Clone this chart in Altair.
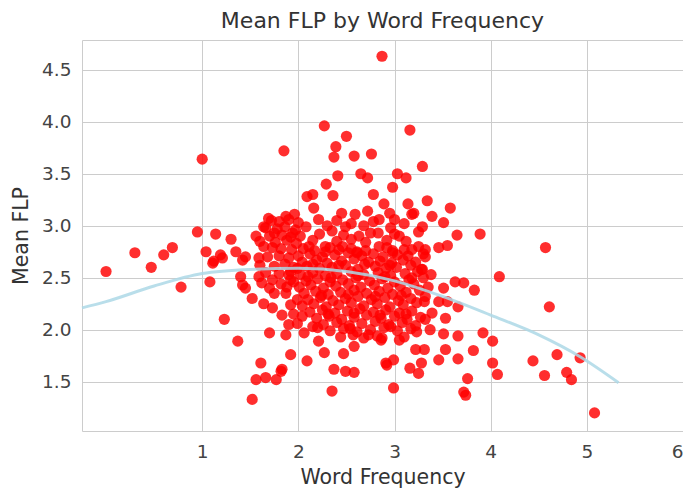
import altair as alt
import pandas as pd

# ---- scatter values (Word Frequency, Mean FLP) ----
upper_pts = [
    (2.87, 4.63), (1.00, 3.64), (2.27, 3.96), (2.50, 3.86), (1.85, 3.72), (2.39, 3.76),
    (2.37, 3.66), (2.58, 3.67), (2.76, 3.69), (3.16, 3.92), (3.29, 3.57), (2.41, 3.48),
    (2.65, 3.50), (2.72, 3.46), (2.29, 3.40), (3.03, 3.50), (3.12, 3.46), (2.98, 3.37),
    (2.36, 3.29), (2.15, 3.30), (2.78, 3.30), (2.09, 3.28), (2.16, 3.17), (2.89, 3.21),
    (3.14, 3.21), (3.34, 3.24), (3.58, 3.17), (3.20, 3.12), (3.39, 3.09), (3.51, 3.03),
    (3.29, 2.99), (3.65, 2.91), (3.89, 2.92), (1.69, 3.07), (1.87, 3.09), (1.96, 3.11),
    (2.59, 3.11), (2.72, 3.14), (2.84, 3.06), (3.18, 3.11), (2.21, 3.06), (2.08, 2.99),
    (2.35, 2.95), (2.49, 2.99), (2.63, 2.90), (2.75, 2.93), (2.96, 2.98), (3.05, 2.90),
    (3.25, 2.94), (1.64, 2.99), (1.75, 2.93), (1.94, 2.93), (2.02, 2.90),
]
left_pts = [
    (0.95, 2.94), (1.14, 2.92), (1.30, 2.87), (1.56, 2.90), (0.00, 2.56), (0.30, 2.74),
    (0.47, 2.60), (0.60, 2.72), (0.69, 2.79), (0.78, 2.41), (1.04, 2.75), (1.08, 2.46),
    (1.12, 2.66), (1.21, 2.69), (1.35, 2.75), (1.45, 2.70), (1.64, 2.80), (1.73, 2.79),
    (1.40, 2.51), (1.42, 2.43), (1.52, 2.30), (1.23, 2.10), (1.37, 1.89), (1.61, 1.68),
    (1.70, 1.97), (1.87, 1.95), (1.92, 1.76), (2.09, 1.70), (1.56, 1.52), (1.66, 1.54),
    (1.77, 1.52), (1.82, 1.60), (1.52, 1.33), (2.35, 1.41), (2.21, 1.89), (2.27, 1.78),
    (2.47, 1.77), (2.58, 1.84), (2.37, 1.62), (2.49, 1.60), (2.58, 1.59), (1.73, 2.21),
    (1.83, 2.14), (2.06, 1.97), (2.15, 2.03), (1.45, 2.40), (1.75, 2.35), (1.87, 2.35),
    (1.92, 2.48), (1.99, 2.29), (2.04, 2.13), (1.59, 2.51), (1.73, 2.48), (1.11, 2.64),
    (1.42, 2.67), (1.59, 2.69), (1.90, 2.53), (1.99, 2.59), (1.83, 1.62), (1.19, 2.72),
]
lower_pts = [
    (2.91, 1.68), (2.86, 1.90), (2.99, 1.44), (2.92, 1.66), (2.99, 1.71), (3.16, 1.63),
    (3.25, 1.58), (3.28, 1.68), (3.22, 1.81), (2.87, 1.92), (3.05, 1.90), (2.73, 1.95),
]
right_pts = [
    (4.57, 2.79), (4.09, 2.51), (4.61, 2.22), (3.63, 2.46), (3.72, 2.45), (3.83, 2.38),
    (3.51, 2.40), (3.66, 2.22), (3.53, 2.11), (3.39, 2.16), (3.51, 1.96), (3.66, 1.94),
    (3.92, 1.97), (4.02, 1.89), (3.82, 1.80), (3.53, 1.81), (3.46, 1.71), (3.66, 1.72),
    (4.02, 1.68), (4.07, 1.57), (3.76, 1.53), (3.72, 1.40), (3.74, 1.37), (4.44, 1.70),
    (4.69, 1.76), (4.56, 1.56), (4.79, 1.59), (4.84, 1.52), (4.93, 1.73), (5.08, 1.20),
    (3.32, 2.77), (3.46, 2.79), (3.55, 2.81), (3.29, 2.58), (3.32, 2.32), (3.46, 2.27),
    (3.55, 2.27), (3.32, 2.10), (3.37, 2.00), (3.23, 1.98), (3.31, 1.81), (3.18, 2.77),
    (3.32, 2.70), (2.98, 2.74), (2.84, 2.80), (2.61, 2.75), (2.46, 2.80), (2.28, 2.80),
    (2.11, 2.80),
]
core_pts = [
    (2.05, 2.78), (2.17, 2.76), (2.33, 2.79), (2.42, 2.77), (2.55, 2.78), (2.70, 2.76), (2.92, 2.79), (3.10, 2.77), (3.25, 2.80),
    (2.00, 2.71), (2.12, 2.73), (2.25, 2.70), (2.38, 2.72), (2.52, 2.74), (2.66, 2.71), (2.78, 2.73), (2.88, 2.70), (3.03, 2.72), (3.14, 2.71), (3.30, 2.73),
    (2.04, 2.65), (2.19, 2.67), (2.30, 2.64), (2.45, 2.66), (2.58, 2.68), (2.73, 2.65), (2.85, 2.66), (2.97, 2.64), (3.09, 2.67), (3.22, 2.65),
    (2.09, 2.61), (2.22, 2.59), (2.35, 2.60), (2.49, 2.62), (2.62, 2.58), (2.80, 2.61), (2.91, 2.59), (3.02, 2.60), (3.17, 2.62), (3.28, 2.58),
    (2.02, 2.53), (2.15, 2.55), (2.28, 2.52), (2.40, 2.54), (2.55, 2.56), (2.68, 2.53), (2.83, 2.55), (2.96, 2.52), (3.11, 2.54), (3.24, 2.56), (3.38, 2.53),
    (2.08, 2.47), (2.20, 2.49), (2.33, 2.46), (2.46, 2.48), (2.60, 2.50), (2.74, 2.47), (2.87, 2.49), (3.00, 2.46), (3.15, 2.48), (3.30, 2.50),
    (2.01, 2.41), (2.13, 2.43), (2.26, 2.40), (2.39, 2.42), (2.52, 2.44), (2.65, 2.41), (2.79, 2.43), (2.93, 2.40), (3.06, 2.42), (3.20, 2.44), (3.35, 2.41),
    (2.06, 2.35), (2.18, 2.37), (2.31, 2.34), (2.44, 2.36), (2.58, 2.38), (2.71, 2.35), (2.84, 2.37), (2.98, 2.34), (3.12, 2.36), (3.26, 2.38),
    (2.10, 2.29), (2.23, 2.31), (2.36, 2.28), (2.49, 2.30), (2.62, 2.32), (2.76, 2.29), (2.90, 2.31), (3.04, 2.28), (3.17, 2.30), (3.31, 2.27),
    (2.04, 2.23), (2.16, 2.25), (2.29, 2.22), (2.42, 2.24), (2.55, 2.26), (2.68, 2.23), (2.82, 2.25), (2.95, 2.22), (3.09, 2.24), (3.23, 2.26),
    (2.12, 2.17), (2.25, 2.19), (2.38, 2.16), (2.51, 2.18), (2.64, 2.20), (2.78, 2.17), (2.91, 2.19), (3.05, 2.16), (3.18, 2.18),
    (2.19, 2.11), (2.32, 2.13), (2.45, 2.10), (2.58, 2.12), (2.71, 2.14), (2.86, 2.11), (3.00, 2.13), (3.13, 2.10), (3.27, 2.12),
    (2.26, 2.05), (2.40, 2.07), (2.53, 2.04), (2.66, 2.06), (2.80, 2.08), (2.94, 2.05), (3.08, 2.07), (3.22, 2.04),
    (2.33, 1.99), (2.47, 2.01), (2.61, 1.98), (2.75, 2.00), (2.89, 2.02), (3.03, 1.99), (3.17, 2.01),
    (2.44, 1.93), (2.57, 1.95), (2.68, 1.92), (2.82, 1.94), (3.10, 1.93),
    (2.15, 2.86), (2.40, 2.85), (2.55, 2.87), (2.70, 2.84), (2.92, 2.86), (3.12, 2.85),
    (2.30, 3.00), (2.55, 3.02), (2.68, 3.00), (3.10, 3.02), (2.45, 3.12), (2.95, 3.12),
]
core_fill_pts = [
    (2.10, 2.51), (2.34, 2.50), (2.62, 2.52), (2.90, 2.51), (3.18, 2.50),
    (2.24, 2.33), (2.52, 2.34), (2.80, 2.32), (3.07, 2.33),
    (2.15, 2.63), (2.42, 2.62), (2.69, 2.63), (2.95, 2.62),
    (2.31, 2.15), (2.58, 2.16), (2.85, 2.14), (3.12, 2.15),
    (2.28, 2.75), (2.61, 2.74), (2.98, 2.76),
    (2.22, 2.92), (2.47, 2.91), (2.83, 2.93), (3.00, 2.92),
    (2.40, 3.05), (2.78, 3.04), (3.00, 3.06),
    (2.20, 2.02), (2.54, 2.01), (2.96, 2.03),
]
left_core_pts = [
    (1.72, 3.05), (1.80, 3.04), (1.90, 3.06), (2.00, 3.03),
    (1.66, 2.98), (1.78, 2.97), (1.86, 2.99), (1.97, 2.96),
    (1.70, 2.90), (1.83, 2.91), (1.92, 2.89),
    (1.60, 2.85), (1.76, 2.84), (1.88, 2.86), (1.98, 2.83),
    (1.82, 2.78), (1.93, 2.77),
    (1.68, 2.70), (1.80, 2.71), (1.90, 2.69),
    (1.60, 2.62), (1.75, 2.61), (1.86, 2.63), (1.95, 2.60),
    (1.66, 2.55), (1.80, 2.54), (1.92, 2.56),
    (1.62, 2.45), (1.82, 2.44), (1.95, 2.46),
    (1.70, 2.40), (1.88, 2.41),
    (1.64, 2.25), (1.92, 2.24), (1.95, 2.15), (1.90, 2.05), (1.99, 2.06),
]

# ---- fitted curve ----
fit_x = [-0.25, 0.0, 0.5, 1.0, 1.5, 2.0, 2.5, 3.0, 3.5, 4.0, 4.5, 4.93, 5.33]
fit_y = [2.21, 2.27, 2.42, 2.54, 2.58, 2.59, 2.56, 2.47, 2.32, 2.14, 1.95, 1.74, 1.49]

x_ticks = [1, 2, 3, 4, 5, 6]
y_ticks = [1.5, 2.0, 2.5, 3.0, 3.5, 4.0, 4.5]

all_pts = upper_pts + left_pts + lower_pts + right_pts + core_pts + core_fill_pts + left_core_pts
df = pd.DataFrame(all_pts, columns=["freq", "flp"])
line_df = pd.DataFrame({"freq": fit_x, "flp": fit_y})

FONT = "DejaVu Sans"
xscale = alt.Scale(domain=[-0.25, 6], nice=False, zero=False)
yscale = alt.Scale(domain=[1.026, 4.786], nice=False, zero=False)

points = alt.Chart(df).mark_circle(size=125, color="#ff0000", opacity=0.82).encode(
    x=alt.X("freq:Q", scale=xscale,
            axis=alt.Axis(values=x_ticks, title="Word Frequency", format="d",
                          labelPadding=11, titlePadding=7)),
    y=alt.Y("flp:Q", scale=yscale,
            axis=alt.Axis(values=y_ticks, title="Mean FLP", format=".1f",
                          labelPadding=11, titlePadding=10)),
)

line = alt.Chart(line_df).mark_line(
    color="#add8e6", strokeWidth=3, opacity=0.85, interpolate="monotone"
).encode(x=alt.X("freq:Q", scale=xscale), y=alt.Y("flp:Q", scale=yscale))

chart = alt.layer(points, line).properties(
    width=601, height=391,
    title=alt.TitleParams("Mean FLP by Word Frequency", font=FONT, fontSize=22,
                          fontWeight="normal", color="#333333", anchor="middle", offset=7),
    autosize=alt.AutoSizeParams(type="none"),
    padding={"left": 74, "top": 32, "right": 0, "bottom": 60},
).configure_view(stroke="#cccccc", strokeWidth=1).configure_axis(
    grid=True, gridColor="#cccccc", gridWidth=1, domain=False, ticks=False,
    labelFont=FONT, labelFontSize=18.5, labelColor="#444444",
    titleFont=FONT, titleFontSize=20.5, titleFontWeight="normal", titleColor="#333333",
)

chart.save("out.html", embed_options={"renderer": "svg", "actions": False})
